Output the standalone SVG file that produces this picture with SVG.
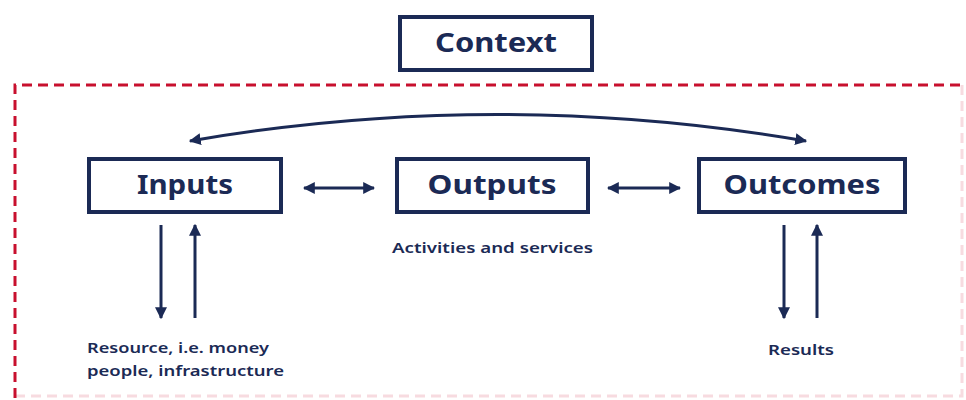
<svg xmlns="http://www.w3.org/2000/svg" width="966" height="400" viewBox="0 0 966 400">
<style>
.box{fill:#fff;stroke:#1b2a55;stroke-width:4}
.title{font-family:"Noto Sans","Liberation Sans",sans-serif;font-weight:700;font-size:27px;fill:#1b2a55;text-anchor:middle}
.lbl{font-family:"Noto Sans","Liberation Sans",sans-serif;font-weight:600;font-size:15px;fill:#1b2a55}
.con{fill:none;stroke:#1b2a55;stroke-width:3}
.dash{fill:none;stroke:#c8102e;stroke-width:3;stroke-dasharray:10 6}
</style>
<defs>
<marker id="ah" viewBox="0 0 10 10" refX="9" refY="5" markerWidth="4" markerHeight="4" orient="auto-start-reverse" markerUnits="strokeWidth">
<path d="M0,0 L10,5 L0,10 z" fill="#1b2a55"/>
</marker>
</defs>
<rect width="966" height="400" fill="#fff"/>
<g id="frame">
<path class="dash" d="M15,398 L15,85 L966,85"/>
<path class="dash" d="M15,396 L962,396 L962,85" opacity="0.15"/>
</g>
<g id="context"><rect class="box" x="400" y="17" width="192" height="53"/><text class="title" x="496" y="52" textLength="122" lengthAdjust="spacingAndGlyphs">Context</text></g>
<g id="inputs"><rect class="box" x="89" y="159" width="192" height="53"/><text class="title" x="185" y="194" textLength="96" lengthAdjust="spacingAndGlyphs">Inputs</text></g>
<g id="outputs"><rect class="box" x="397" y="159" width="191" height="53"/><text class="title" x="492" y="194" textLength="129" lengthAdjust="spacingAndGlyphs">Outputs</text></g>
<g id="outcomes"><rect class="box" x="699" y="159" width="206" height="53"/><text class="title" x="802" y="194" textLength="157" lengthAdjust="spacingAndGlyphs">Outcomes</text></g>
<g id="connectors">
<path class="con" d="M190,141 Q497,88 806,141" marker-start="url(#ah)" marker-end="url(#ah)"/>
<line class="con" x1="304" y1="188" x2="374" y2="188" marker-start="url(#ah)" marker-end="url(#ah)"/>
<line class="con" x1="608" y1="188" x2="680" y2="188" marker-start="url(#ah)" marker-end="url(#ah)"/>
<line class="con" x1="161" y1="225" x2="161" y2="318" marker-end="url(#ah)"/>
<line class="con" x1="195" y1="318" x2="195" y2="225" marker-end="url(#ah)"/>
<line class="con" x1="784" y1="225" x2="784" y2="318" marker-end="url(#ah)"/>
<line class="con" x1="817" y1="318" x2="817" y2="225" marker-end="url(#ah)"/>
</g>
<g id="labels">
<text class="lbl" x="392" y="253" textLength="201" lengthAdjust="spacingAndGlyphs">Activities and services</text>
<text class="lbl" x="87" y="353" textLength="182" lengthAdjust="spacingAndGlyphs">Resource, i.e. money</text>
<text class="lbl" x="87" y="376" textLength="197" lengthAdjust="spacingAndGlyphs">people, infrastructure</text>
<text class="lbl" x="768" y="355" textLength="66" lengthAdjust="spacingAndGlyphs">Results</text>
</g>
</svg>
